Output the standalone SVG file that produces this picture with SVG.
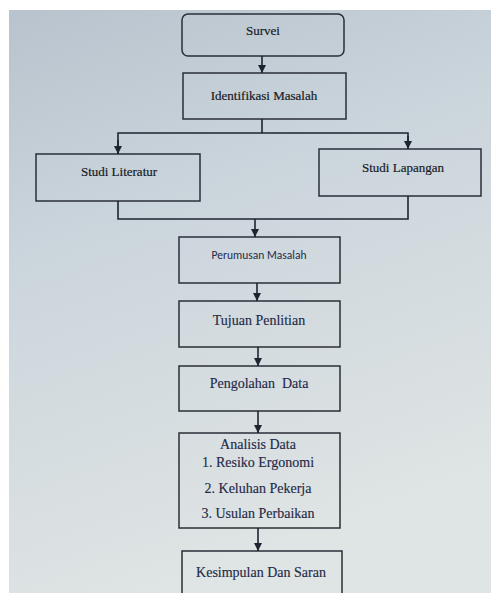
<svg xmlns="http://www.w3.org/2000/svg" width="491" height="593" viewBox="0 0 491 593">
<defs>
<linearGradient id="bg" x1="0" y1="0" x2="0.3" y2="1">
<stop offset="0" stop-color="#b8c3cd"/>
<stop offset="0.4" stop-color="#cbd5dc"/>
<stop offset="1" stop-color="#dfe4e4"/>
</linearGradient>
<marker id="arr" viewBox="0 0 10 10" refX="10" refY="5" markerWidth="5" markerHeight="5" orient="auto">
<path d="M0,0 L10,5 L0,10 z" fill="#1e2530"/>
</marker>
<style>
.box{fill:none;stroke:#2a2f38;stroke-width:1.5}
.ln{fill:none;stroke:#1e2530;stroke-width:1.6}
.t{font-family:"Liberation Serif","Times New Roman",serif;font-size:13px;fill:#161b26;text-anchor:middle;stroke:#161b26;stroke-width:0.2}
.s{font-family:"Carlito","Liberation Sans",Arial,sans-serif;font-size:11.5px;fill:#1f2a48;stroke:none}
.c{font-size:14px;fill:#1f2a48;stroke:#1f2a48;stroke-width:0.15}
</style>
</defs>
<rect x="0" y="0" width="491" height="593" fill="#ffffff"/>
<rect x="9" y="10" width="482" height="583" fill="url(#bg)"/>

<g id="survei">
<rect class="box" x="182" y="14" width="162" height="42" rx="6"/>
<text class="t" x="263" y="35">Survei</text>
</g>
<g id="identifikasi">
<rect class="box" x="183" y="73" width="163" height="46"/>
<text class="t" x="264" y="100">Identifikasi Masalah</text>
</g>
<g id="literatur">
<rect class="box" x="36" y="154" width="164" height="47"/>
<text class="t" x="119" y="176">Studi Literatur</text>
</g>
<g id="lapangan">
<rect class="box" x="319" y="149" width="162" height="47"/>
<text class="t" x="403" y="172">Studi Lapangan</text>
</g>
<g id="perumusan">
<rect class="box" x="179" y="237" width="161" height="46"/>
<text class="t s" x="259" y="259">Perumusan Masalah</text>
</g>
<g id="tujuan">
<rect class="box" x="179" y="301" width="161" height="46"/>
<text class="t c" x="259" y="325">Tujuan Penlitian</text>
</g>
<g id="pengolahan">
<rect class="box" x="179" y="366" width="161" height="45"/>
<text class="t c" x="259" y="388" xml:space="preserve">Pengolahan  Data</text>
</g>
<g id="analisis">
<rect class="box" x="179" y="433" width="161" height="95"/>
<text class="t c" x="258" y="449">Analisis Data</text>
<text class="t c" x="258" y="467">1. Resiko Ergonomi</text>
<text class="t c" x="258" y="493">2. Keluhan Pekerja</text>
<text class="t c" x="258" y="518">3. Usulan Perbaikan</text>
</g>
<g id="kesimpulan">
<rect class="box" x="182" y="551" width="160" height="60"/>
<text class="t c" x="261" y="577">Kesimpulan Dan Saran</text>
</g>

<g id="connectors">
<line class="ln" x1="262" y1="56" x2="262" y2="73" marker-end="url(#arr)"/>
<polyline class="ln" points="262,119 262,133"/>
<polyline class="ln" points="118,154 118,133 408,133 408,149"/>
<line class="ln" x1="118" y1="140" x2="118" y2="154" marker-end="url(#arr)"/>
<line class="ln" x1="408" y1="136" x2="408" y2="149" marker-end="url(#arr)"/>
<polyline class="ln" points="118,201 118,219 408,219 408,196"/>
<line class="ln" x1="255" y1="219" x2="255" y2="237" marker-end="url(#arr)"/>
<line class="ln" x1="257" y1="283" x2="257" y2="301" marker-end="url(#arr)"/>
<line class="ln" x1="258" y1="347" x2="258" y2="366" marker-end="url(#arr)"/>
<line class="ln" x1="258" y1="411" x2="258" y2="433" marker-end="url(#arr)"/>
<line class="ln" x1="258" y1="528" x2="258" y2="551" marker-end="url(#arr)"/>
</g>
</svg>
